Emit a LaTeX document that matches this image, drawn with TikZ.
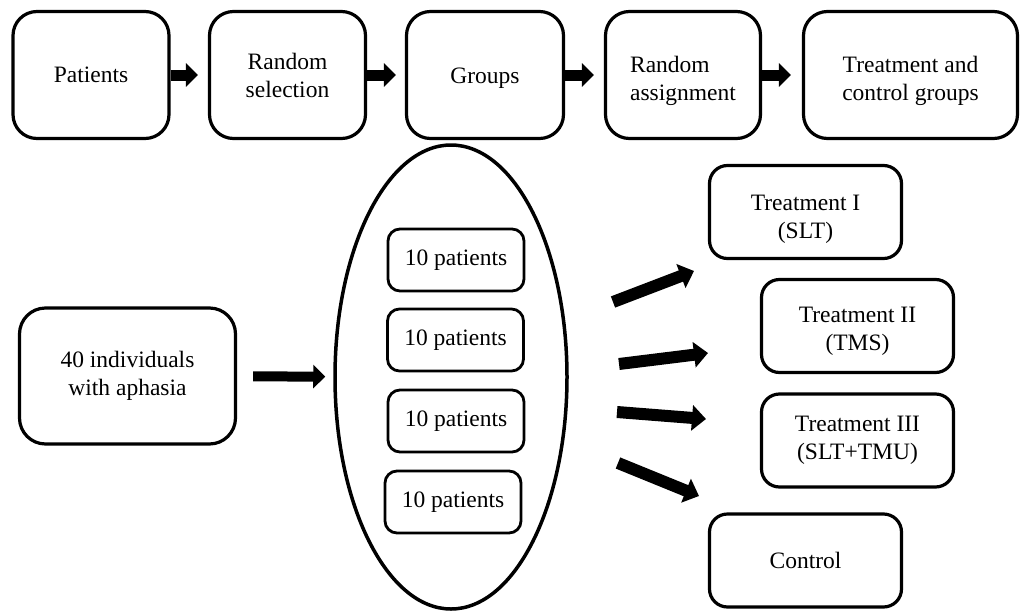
\documentclass[tikz,border=0pt]{standalone}
\usepackage{fontspec}
\setmainfont{Liberation Serif}
\usetikzlibrary{arrows.meta,shapes.geometric}
% label drawn a little below the node centre, keeping its nominal size
\newcommand\droppedtext[3]{\raisebox{-#1}[\height][\depth]{\begin{tabular}{@{}#2@{}}#3\end{tabular}}}
\begin{document}
\begin{tikzpicture}[x=1pt,y=-1pt,
  every node/.style={font=\fontsize{23.5}{28}\selectfont},
  stage/.style={draw, line width=3.2pt, rounded corners=24pt, align=center, minimum height=127pt},
  grp/.style={draw, line width=2.8pt, rounded corners=12pt, minimum width=136pt, minimum height=62pt},
  arm/.style={draw, line width=3.2pt, rounded corners=18pt, align=center, minimum width=192pt, minimum height=93pt},
  flow/.style={line width=11pt, -{Triangle[length=12pt,width=23pt]}},
  fan/.style={line width=12pt, -{Triangle[length=14pt,width=25pt]}},
]
\useasboundingbox (0,0) rectangle (1021,611);

% study design row
\node[stage, minimum width=156pt] (pat) at (91,75) {Patients};
\node[stage, minimum width=156pt] (sel) at (287.5,75) {Random\\selection};
\node[stage, minimum width=157pt] (grps) at (485,75) {\raisebox{-3pt}[\height][\depth]{Groups}};
\node[stage, minimum width=155pt] (asg) at (683,75) {\droppedtext{6pt}{l}{Random\\assignment}};
\node[stage, minimum width=214pt] (tcg) at (910.5,75) {\droppedtext{6pt}{c}{Treatment and\\control groups}};

\draw[flow, shorten >=10pt] (pat) -- (sel);
\draw[flow, shorten >=9pt] (sel) -- (grps);
\draw[flow, shorten >=10pt] (grps) -- (asg);
\draw[flow, shorten >=11pt] (asg) -- (tcg);

% sample and allocation
\node[stage, rounded corners=26pt, minimum width=216pt, minimum height=136pt] (cohort) at (127.5,376) {40 individuals\\with aphasia};
\node[draw, ellipse, line width=3.5pt, minimum width=232pt, minimum height=464pt, inner sep=0pt] (pool) at (451,377) {};

\node[grp] (g1) at (456,260) {10 patients};
\node[grp] (g2) at (455.5,340) {10 patients};
\node[grp] (g3) at (456,421) {10 patients};
\node[grp] (g4) at (453,502) {10 patients};

\draw[flow, line width=10pt, shorten <=16pt, shorten >=8pt] (cohort) -- (pool);

% treatment arms
\node[arm] (t1) at (805.5,212) {\droppedtext{7pt}{c}{Treatment I\\(SLT)}};
\node[arm] (t2) at (857.5,326) {\droppedtext{5pt}{c}{Treatment II\\(TMS)}};
\node[arm] (t3) at (857.5,440.5) {Treatment III\\(SLT+TMU)};
\node[arm] (ctl) at (805.5,560.5) {Control};

\coordinate (a1) at (613,302); \coordinate (b1) at (694,271);
\coordinate (a2) at (619,364); \coordinate (b2) at (708,353);
\coordinate (a3) at (617,412); \coordinate (b3) at (706,419);
\coordinate (a4) at (618,463); \coordinate (b4) at (699,496);

\draw[fan] (a1) -- (b1);
\draw[fan] (a2) -- (b2);
\draw[fan] (a3) -- (b3);
\draw[fan] (a4) -- (b4);
\end{tikzpicture}
\end{document}
